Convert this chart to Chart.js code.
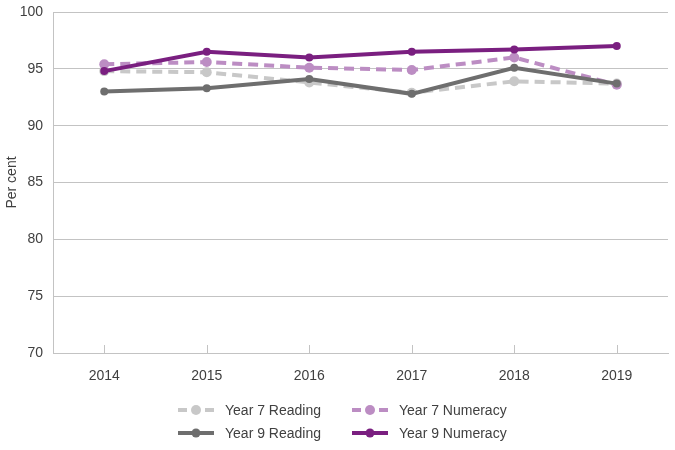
<!DOCTYPE html>
<html>
<head>
<meta charset="utf-8">
<script src="https://cdn.jsdelivr.net/npm/chart.js@4/dist/chart.umd.min.js"></script>
<style>
    body { margin: 0; background: #fff; }
    #wrap { position: relative; width: 675px; height: 450px; }
    #legend { position: absolute; left: 0; top: 0; width: 675px; height: 450px; pointer-events: none;
        font-family: "Liberation Sans", Arial, sans-serif; font-size: 14px; color: #404040; }
    .item { position: absolute; display: flex; align-items: center; height: 20px; }
    .item svg { margin-right: 11px; }
</style>
</head>
<body>
<div id="wrap">
    <canvas id="myLineChart" width="675" height="450"></canvas>
    <div id="legend"></div>
</div>
<script>
var years = ['2014', '2015', '2016', '2017', '2018', '2019'];
var year7Reading = [94.8, 94.7, 93.8, 92.9, 93.9, 93.7];
var year7Numeracy = [95.4, 95.6, 95.1, 94.9, 96.0, 93.6];
var year9Reading = [93.0, 93.3, 94.1, 92.8, 95.1, 93.7];
var year9Numeracy = [94.8, 96.5, 96.0, 96.5, 96.7, 97.0];
var yTicks = [70, 75, 80, 85, 90, 95, 100];

var _font = { family: '"Liberation Sans", Arial, sans-serif', size: 14 };
var _gridColor = '#c3c3c3';

// legend order as in the picture: row by row
var _series = [
    { label: 'Year 7 Reading', color: '#c8c8c8', dashed: true, data: year7Reading, left: 178, top: 400 },
    { label: 'Year 7 Numeracy', color: '#bc8dc3', dashed: true, data: year7Numeracy, left: 352, top: 400 },
    { label: 'Year 9 Reading', color: '#6e6e6e', dashed: false, data: year9Reading, left: 178, top: 423 },
    { label: 'Year 9 Numeracy', color: '#7a1f80', dashed: false, data: year9Numeracy, left: 352, top: 423 },
];

function buildDatasets() {
    var ds = _series.map(function (s, i) {
        return {
            label: s.label,
            data: s.data,
            borderColor: s.color,
            backgroundColor: s.color,
            borderWidth: 4,
            borderDash: s.dashed ? [10, 6] : [],
            pointRadius: s.dashed ? 5 : 4,
            pointHoverRadius: 5,
            pointBorderWidth: 0,
            fill: false,
            tension: 0,
            order: 10 - i, // later series on top
        };
    });
    return ds;
}

// tick marks pointing up into the plot on the x axis
var xTickMarks = {
    id: 'xTickMarks',
    afterDraw: function (chart) {
        var ctx = chart.ctx;
        var x = chart.scales.x;
        var bottom = chart.chartArea.bottom;
        ctx.save();
        ctx.strokeStyle = _gridColor;
        ctx.lineWidth = 1;
        ctx.beginPath();
        for (var i = 0; i < years.length; i++) {
            var px = Math.round(x.getPixelForTick(i)) + 0.5;
            ctx.moveTo(px, bottom - 8);
            ctx.lineTo(px, bottom);
        }
        ctx.stroke();
        ctx.restore();
    }
};

function buildLegend() {
    var html = '';
    _series.forEach(function (s) {
        var line = s.dashed
            ? '<line x1="0" y1="10" x2="9" y2="10" stroke="' + s.color + '" stroke-width="4"/>' +
              '<line x1="27" y1="10" x2="36" y2="10" stroke="' + s.color + '" stroke-width="4"/>' +
              '<circle cx="18" cy="10" r="5" fill="' + s.color + '"/>'
            : '<line x1="0" y1="10" x2="36" y2="10" stroke="' + s.color + '" stroke-width="4"/>' +
              '<circle cx="18" cy="10" r="4.5" fill="' + s.color + '"/>';
        html += '<div class="item" style="left:' + s.left + 'px;top:' + s.top + 'px">' +
            '<svg width="36" height="20">' + line + '</svg><span>' + s.label + '</span></div>';
    });
    document.getElementById('legend').innerHTML = html;
}

function buildLineChart() {
    var ctx = document.getElementById('myLineChart').getContext('2d');
    new Chart(ctx, {
        type: 'line',
        data: { labels: years, datasets: buildDatasets() },
        options: {
            responsive: false,
            animation: false,
            layout: { padding: { top: 0, right: 7, bottom: 0, left: 0 } },
            plugins: { legend: { display: false }, tooltip: { enabled: false } },
            scales: {
                x: {
                    offset: true,
                    grid: { display: false, drawTicks: false },
                    border: { display: true, color: _gridColor },
                    ticks: { font: _font, color: '#404040', padding: 15 },
                    afterFit: function (scale) { scale.height = 97; },
                },
                y: {
                    min: 70,
                    max: 100,
                    afterBuildTicks: function (scale) {
                        scale.ticks = yTicks.map(function (v) { return { value: v }; });
                    },
                    grid: { color: _gridColor, drawTicks: false },
                    border: { display: true, color: _gridColor },
                    ticks: { font: _font, color: '#404040', padding: 10 },
                    title: { display: true, text: 'Per cent', font: _font, color: '#404040', padding: { top: 4, bottom: 0 } },
                    afterFit: function (scale) {
                        scale.width = 53;
                        scale.paddingTop = 12;
                        scale.paddingBottom = 0;
                    },
                },
            },
        },
        plugins: [xTickMarks],
    });
}

buildLineChart();
buildLegend();
</script>
</body>
</html>
